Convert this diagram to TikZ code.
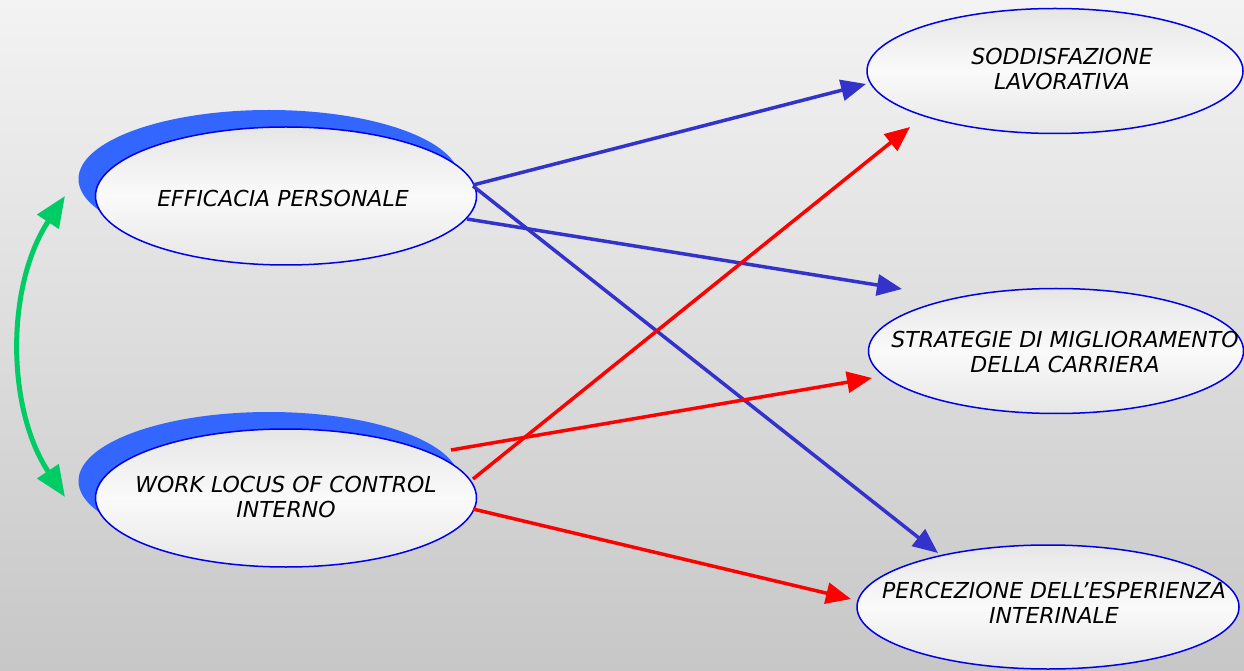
\documentclass[tikz,border=0pt]{standalone}
\usepackage{fontspec}
\setmainfont{DejaVu Sans}
\usetikzlibrary{shapes.geometric,arrows.meta}
\definecolor{bgtop}{RGB}{243,243,243}
\definecolor{bgbot}{RGB}{199,199,199}
\definecolor{shadowblue}{RGB}{51,102,255}
\definecolor{edgeblue}{RGB}{0,0,230}
\definecolor{arrblue}{RGB}{51,51,204}
\definecolor{arrred}{RGB}{255,0,0}
\definecolor{arrgreen}{RGB}{0,204,102}
\definecolor{elltop}{RGB}{230,230,230}
\definecolor{ellmid}{RGB}{250,250,250}
\begin{document}
\begin{tikzpicture}[x=1pt,y=1pt,
  ellbox/.style={ellipse, draw=edgeblue, line width=1.5pt, top color=elltop, bottom color=elltop, middle color=ellmid, inner sep=0pt},
  ellshadow/.style={ellipse, fill=shadowblue, draw=none, inner sep=0pt},
  lbl/.style={align=center, font=\fontsize{22}{25}\selectfont\itshape, text=black, inner sep=0pt},
  bluearrow/.style={draw=arrblue, line width=3.5pt, -{Triangle[length=25pt,width=21pt]}},
  redarrow/.style={draw=arrred, line width=3.5pt, -{Triangle[length=25pt,width=21pt]}},
  greenarrow/.style={draw=arrgreen, line width=5pt, {Triangle[length=31pt,width=25pt]}-{Triangle[length=31pt,width=25pt]}}
]
\useasboundingbox (0,0) rectangle (1244,670);
\shade[top color=bgtop, bottom color=bgbot] (0,0) rectangle (1244,670);

% left ellipses with shadows
\node[ellshadow, minimum width=381pt, minimum height=138pt] (effs) at (269,491) {};
\node[ellbox, minimum width=381pt, minimum height=138pt] (eff) at (286,474) {};
\node[lbl] (efft) at (283,472) {EFFICACIA PERSONALE};

\node[ellshadow, minimum width=381pt, minimum height=138pt] (wlcs) at (269,189) {};
\node[ellbox, minimum width=381pt, minimum height=138pt] (wlc) at (286,172) {};
\node[lbl] (wlct) at (286,173.5) {WORK LOCUS OF CONTROL\\INTERNO};

% right ellipses
\node[ellbox, minimum width=376pt, minimum height=125pt] (sod) at (1055,599) {};
\node[lbl] (sodt) at (1062,601) {SODDISFAZIONE\\LAVORATIVA};

\node[ellbox, minimum width=375pt, minimum height=125pt] (str) at (1056,319) {};
\node[lbl] (strt) at (1065,318.5) {STRATEGIE DI MIGLIORAMENTO\\DELLA CARRIERA};

\node[ellbox, minimum width=382pt, minimum height=124pt] (per) at (1048,63) {};
\node[lbl] (pert) at (1054,67) {PERCEZIONE DELL’ESPERIENZA\\INTERINALE};

% arrow end points
\coordinate (b1s) at (473,485);
\coordinate (b1e) at (866,586);
\coordinate (b2s) at (467,451);
\coordinate (b2e) at (902,381);
\coordinate (b3s) at (473,484);
\coordinate (b3e) at (938,117);
\coordinate (r1s) at (451,220);
\coordinate (r1e) at (872,292);
\coordinate (r2s) at (473,191);
\coordinate (r2e) at (910,543);
\coordinate (r3s) at (473,161);
\coordinate (r3e) at (851,71);
\coordinate (gt) at (65,474);
\coordinate (gb) at (65,173);

\draw[bluearrow] (b1s) -- (b1e);
\draw[bluearrow] (b2s) -- (b2e);
\draw[bluearrow] (b3s) -- (b3e);
\draw[redarrow] (r1s) -- (r1e);
\draw[redarrow] (r2s) -- (r2e);
\draw[redarrow] (r3s) -- (r3e);
\draw[greenarrow] (gt) .. controls (6,385) and (6,262) .. (gb);
\end{tikzpicture}
\end{document}
